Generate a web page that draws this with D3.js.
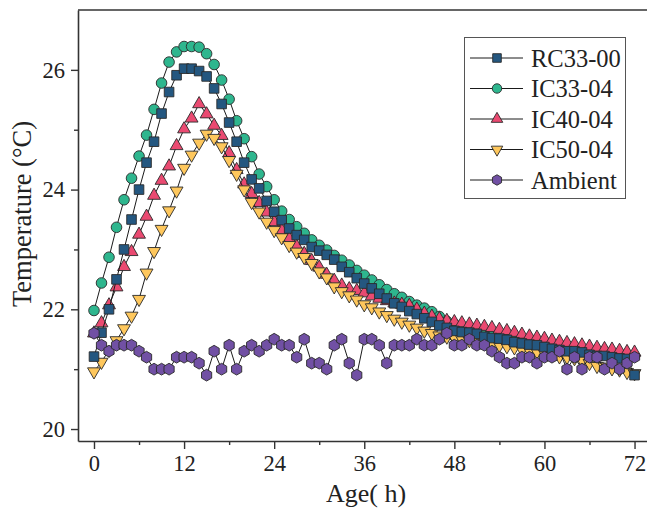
<!DOCTYPE html>
<html>
<head>
<meta charset="utf-8">
<script src="https://cdn.jsdelivr.net/npm/d3@7"></script>
<style>
  body { margin: 0; background: #fff; }
  svg { display: block; }
  text { font-family: "Liberation Serif", "Times New Roman", serif; fill: #222; }
</style>
</head>
<body>
<svg id="chart" width="647" height="510"></svg>
<script>

// 時間 ( h )
const hours = [
  0, 1, 2, 3, 4, 5, 6, 7, 8, 9, 10, 11, 12, 13, 14, 15, 16, 17, 18, 19, 20,
  21, 22, 23, 24, 25, 26, 27, 28, 29, 30, 31, 32, 33, 34, 35, 36, 37, 38, 39,
  40, 41, 42, 43, 44, 45, 46, 47, 48, 49, 50, 51, 52, 53, 54, 55, 56, 57, 58,
  59, 60, 61, 62, 63, 64, 65, 66, 67, 68, 69, 70, 71, 72
];

// 各シリーズの温度 ( °C )
const rc3300 = [
  21.21, 21.61, 22.00, 22.50, 23.00, 23.50, 24.00, 24.45, 24.80, 25.27, 25.63,
  25.91, 26.02, 26.02, 25.98, 25.89, 25.69, 25.43, 25.12, 24.80, 24.45, 24.17,
  24.02, 23.81, 23.63, 23.49, 23.35, 23.24, 23.16, 23.04, 22.98, 22.91, 22.83,
  22.71, 22.62, 22.52, 22.43, 22.35, 22.26, 22.18, 22.10, 22.04, 21.97, 21.92,
  21.85, 21.79, 21.73, 21.69, 21.64, 21.62, 21.61, 21.59, 21.54, 21.52, 21.51,
  21.49, 21.45, 21.43, 21.41, 21.40, 21.37, 21.34, 21.32, 21.30, 21.30, 21.28,
  21.24, 21.22, 21.22, 21.20, 21.18, 21.17, 20.90
];
const ic3304 = [
  21.98, 22.44, 22.87, 23.37, 23.83, 24.19, 24.56, 24.91, 25.34, 25.78, 26.13,
  26.30, 26.39, 26.39, 26.38, 26.27, 26.09, 25.83, 25.51, 25.15, 24.85, 24.55,
  24.26, 24.05, 23.83, 23.64, 23.50, 23.38, 23.27, 23.16, 23.07, 22.99, 22.90,
  22.82, 22.74, 22.65, 22.57, 22.49, 22.41, 22.33, 22.26, 22.20, 22.13, 22.07,
  22.02, 21.96, 21.88, 21.80, 21.75, 21.71, 21.69, 21.67, 21.64, 21.61, 21.59,
  21.56, 21.53, 21.51, 21.49, 21.47, 21.44, 21.40, 21.38, 21.36, 21.35, 21.33,
  21.31, 21.29, 21.28, 21.26, 21.25, 21.23, 21.22
];
const ic4004 = [
  21.60, 21.77, 22.07, 22.37, 22.71, 22.96, 23.25, 23.55, 23.90, 24.15, 24.39,
  24.73, 25.01, 25.19, 25.43, 25.26, 25.07, 24.90, 24.61, 24.33, 24.09, 23.93,
  23.78, 23.62, 23.46, 23.32, 23.18, 23.05, 22.93, 22.81, 22.70, 22.58, 22.48,
  22.40, 22.34, 22.31, 22.27, 22.22, 22.18, 22.14, 22.10, 22.08, 22.06, 22.00,
  21.93, 21.88, 21.84, 21.81, 21.79, 21.77, 21.75, 21.73, 21.71, 21.69, 21.66,
  21.64, 21.61, 21.58, 21.55, 21.53, 21.51, 21.48, 21.46, 21.44, 21.42, 21.40,
  21.38, 21.36, 21.34, 21.33, 21.31, 21.29, 21.28
];
const ic5004 = [
  20.96, 21.12, 21.32, 21.48, 21.68, 21.89, 22.17, 22.61, 22.97, 23.34, 23.65,
  23.98, 24.36, 24.58, 24.78, 24.93, 24.86, 24.72, 24.49, 24.26, 24.00, 23.79,
  23.63, 23.46, 23.32, 23.20, 23.07, 22.96, 22.87, 22.77, 22.63, 22.53, 22.38,
  22.30, 22.23, 22.16, 22.08, 22.03, 21.96, 21.90, 21.84, 21.79, 21.74, 21.69,
  21.64, 21.60, 21.56, 21.54, 21.52, 21.50, 21.48, 21.46, 21.44, 21.42, 21.40,
  21.38, 21.36, 21.33, 21.31, 21.29, 21.27, 21.24, 21.21, 21.20, 21.18, 21.15,
  21.10, 21.05, 21.04, 21.01, 20.99, 20.95, 20.93
];
const ambient = [
  21.6, 21.4, 21.3, 21.4, 21.4, 21.4, 21.3, 21.2, 21.0, 21.0, 21.0, 21.2, 21.2,
  21.2, 21.1, 20.9, 21.3, 21.0, 21.4, 21.0, 21.3, 21.4, 21.3, 21.4, 21.5, 21.4,
  21.4, 21.2, 21.5, 21.1, 21.1, 21.0, 21.4, 21.5, 21.1, 20.9, 21.5, 21.5, 21.4,
  21.1, 21.4, 21.4, 21.4, 21.5, 21.4, 21.4, 21.5, 21.6, 21.4, 21.4, 21.5, 21.4,
  21.4, 21.3, 21.2, 21.1, 21.1, 21.2, 21.2, 21.1, 21.2, 21.2, 21.3, 21.0, 21.2,
  21.0, 21.2, 21.2, 21.0, 21.1, 21.0, 21.1, 21.2
];

// 目盛り
const xTicks = [0, 12, 24, 36, 48, 60, 72];
const xMinorTicks = [6, 18, 30, 42, 54, 66];
const yTicks = [20, 22, 24, 26];
const yMinorTicks = [21, 23, 25];

// 凡例の名前
const seriesNames = ["RC33-00", "IC33-04", "IC40-04", "IC50-04", "Ambient"];


/* 六角形のシンボル ( 頂点が上 ) */
const symbolHexagon = {
  draw(context, size) {
    let r = Math.sqrt(size / (1.5 * Math.sqrt(3)));
    for (let i = 0; i < 6; i++) {
      let a = Math.PI / 2 + i * Math.PI / 3;
      let px = r * Math.cos(a), py = -r * Math.sin(a);
      if (i === 0) context.moveTo(px, py); else context.lineTo(px, py);
    }
    context.closePath();
  }
};

// シリーズの定義 ( 描画順: 下から上 )
const series = [
  {name: seriesNames[1], values: ic3304, color: "#2eb68e",
    symbol: d3.symbolCircle, size: 88, rotate: 0},
  {name: seriesNames[2], values: ic4004, color: "#ea4a71",
    symbol: d3.symbolTriangle, size: 72, rotate: 0},
  {name: seriesNames[3], values: ic5004, color: "#fec75c",
    symbol: d3.symbolTriangle, size: 72, rotate: 180},
  {name: seriesNames[0], values: rc3300, color: "#245780",
    symbol: d3.symbolSquare, size: 92, rotate: 0},
  {name: seriesNames[4], values: ambient, color: "#7150a4",
    symbol: symbolHexagon, size: 90, rotate: 0},
];

const svg = d3.select("#chart");
const width = 647, height = 510;
const margin = {top: 10, right: 0, bottom: 69, left: 78};
const fontFamily = "'Liberation Serif', 'Times New Roman', serif";

// スケール
const x = d3.scaleLinear()
  .domain([-2.13, 73.66])
  .range([margin.left, width - margin.right]);
const y = d3.scaleLinear()
  .domain([19.8, 27.0])
  .range([height - margin.bottom, margin.top]);

// 枠線 ( 上 )
svg.append("line")
  .attr("x1", margin.left).attr("x2", width)
  .attr("y1", margin.top).attr("y2", margin.top)
  .attr("stroke", "#333").attr("stroke-width", 1.6);

// x 軸
const xAxis = svg.append("g")
  .attr("transform", `translate(0,${height - margin.bottom})`)
  .call(d3.axisBottom(x).tickValues(xTicks).tickSize(8).tickSizeOuter(0)
    .tickPadding(6));
svg.append("g")
  .attr("transform", `translate(0,${height - margin.bottom})`)
  .call(d3.axisBottom(x).tickValues(xMinorTicks).tickSize(4)
    .tickSizeOuter(0).tickFormat(""))
  .select(".domain").remove();

// y 軸
const yAxis = svg.append("g")
  .attr("transform", `translate(${margin.left},0)`)
  .call(d3.axisLeft(y).tickValues(yTicks).tickSize(7).tickSizeOuter(0)
    .tickPadding(6));
svg.append("g")
  .attr("transform", `translate(${margin.left},0)`)
  .call(d3.axisLeft(y).tickValues(yMinorTicks).tickSize(4)
    .tickSizeOuter(0).tickFormat(""))
  .select(".domain").remove();

// 軸のスタイル
svg.selectAll(".domain").attr("stroke", "#333").attr("stroke-width", 1.6);
svg.selectAll(".tick line").attr("stroke", "#333").attr("stroke-width", 1.4);
xAxis.attr("font-family", fontFamily);
yAxis.attr("font-family", fontFamily);
svg.selectAll(".tick text")
  .attr("font-size", 22.5)
  .style("font-family", fontFamily)
  .attr("fill", "#222");

// 軸タイトル
svg.append("text")
  .attr("x", 366).attr("y", 502)
  .attr("text-anchor", "middle")
  .attr("font-size", 26)
  .text("Age( h)");
svg.append("text")
  .attr("transform", "translate(31,214) rotate(-90)")
  .attr("text-anchor", "middle")
  .attr("font-size", 26.5)
  .text("Temperature (°C)");

// 線とマーカー
const line = d3.line()
  .x((d, i) => x(hours[i]))
  .y(d => y(d));

series.forEach(s => {
  let g = svg.append("g");
  g.append("path")
    .datum(s.values)
    .attr("d", line)
    .attr("fill", "none")
    .attr("stroke", "#1a1a1a")
    .attr("stroke-width", 1);
  g.selectAll("path.mark")
    .data(s.values)
    .join("path")
    .attr("class", "mark")
    .attr("d", d3.symbol(s.symbol, s.size))
    .attr("transform",
      (d, i) => `translate(${x(hours[i])},${y(d)}) rotate(${s.rotate})`)
    .attr("fill", s.color)
    .attr("stroke", "#2a2a2a")
    .attr("stroke-width", 0.9);
});

// 凡例
const legendOrder = [3, 0, 1, 2, 4];
const legend = svg.append("g");
legend.append("rect")
  .attr("x", 464.5).attr("y", 37.5)
  .attr("width", 161).attr("height", 161)
  .attr("fill", "#fff")
  .attr("stroke", "#555").attr("stroke-width", 1);
legendOrder.forEach((k, i) => {
  let s = series[k];
  let cy = 58 + i * 30.5;
  legend.append("line")
    .attr("x1", 470).attr("x2", 523)
    .attr("y1", cy).attr("y2", cy)
    .attr("stroke", "#1a1a1a").attr("stroke-width", 1);
  legend.append("path")
    .attr("d", d3.symbol(s.symbol, s.size * 0.8))
    .attr("transform", `translate(497,${cy}) rotate(${s.rotate})`)
    .attr("fill", s.color)
    .attr("stroke", "#2a2a2a").attr("stroke-width", 0.9);
  legend.append("text")
    .attr("x", 531).attr("y", cy + 8.5)
    .attr("font-size", 24.5)
    .text(s.name);
});

</script>
</body>
</html>
